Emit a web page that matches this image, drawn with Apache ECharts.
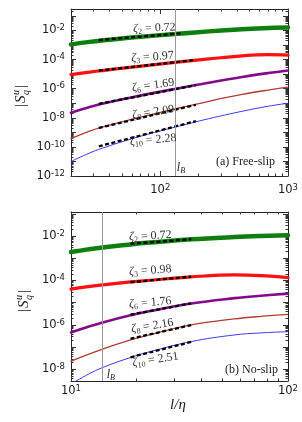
<!DOCTYPE html>
<html><head><meta charset="utf-8">
<script src="https://cdn.jsdelivr.net/npm/echarts@6/dist/echarts.min.js"></script>
<style>html,body{margin:0;padding:0;background:#fff}#c{width:302px;height:422px}</style>
</head><body><div id="c"></div>
<script>
// ---------- DATA: panel (a) Free-slip ----------
const aX   = [20, 28, 35, 63, 130, 240, 437, 700, 1000];
const aQ2  = [1.1e-3, 1.65e-3, 2.06e-3, 3.4e-3, 5.7e-3, 8.7e-3, 1.21e-2, 1.46e-2, 1.63e-2];
const aQ3  = [9.3e-6, 1.39e-5, 1.77e-5, 3.18e-5, 6.45e-5, 1.12e-4, 1.81e-4, 2.18e-4, 2.03e-4];
const aQ6  = [2.2e-8, 5.45e-8, 9.1e-8, 2.78e-7, 9.65e-7, 2.6e-6, 6.4e-6, 1.19e-5, 1.8e-5];
const aQ8  = [3.8e-10, 1.23e-9, 2.3e-9, 8.8e-9, 4.0e-8, 1.36e-7, 4.0e-7, 8.1e-7, 1.28e-6];
const aQ10 = [1.0e-11, 3.84e-11, 8.0e-11, 4.14e-10, 2.27e-9, 8.7e-9, 2.8e-8, 6.25e-8, 1.0e-7];
const aFitX = [[33, 150], [33, 190], [33, 190], [33, 190], [33, 190]];
const aFitY = [[2.2e-3, 6.5e-3], [1.74e-5, 9.5e-5], [9e-8, 1.74e-6], [2.0e-9, 7.8e-8], [1.1e-10, 5.9e-9]];
const aZeta = ['0.72', '0.97', '1.69', '2.09', '2.28'];
const aLB = 130;
const aXLabels = [100, 1000];
const aYLabels = [1e-12, 1e-10, 1e-8, 1e-6, 1e-4, 1e-2];
const aTitle = '(a) Free-slip';

// ---------- DATA: panel (b) No-slip ----------
const bX   = [10, 12, 14, 18.8, 23.2, 35.8, 56.7, 75, 100];
const bQ2  = [1.9e-3, 2.5e-3, 3.06e-3, 4.17e-3, 5.04e-3, 7.05e-3, 8.96e-3, 9.97e-3, 1.08e-2];
const bQ3  = [4.1e-5, 5.29e-5, 6.37e-5, 8.56e-5, 1.024e-4, 1.45e-4, 1.78e-4, 1.66e-4, 1.34e-4];
const bQ6  = [4.6e-7, 8.23e-7, 1.29e-6, 2.7e-6, 4.2e-6, 9.2e-6, 1.6e-5, 2.06e-5, 2.56e-5];
const bQ8  = [2.3e-8, 4.68e-8, 8.19e-8, 2.1e-7, 3.7e-7, 1.0e-6, 1.86e-6, 2.43e-6, 3.0e-6];
const bQ10 = [2.2e-9, 6.0e-9, 1.22e-8, 3.42e-8, 6.3e-8, 1.78e-7, 3.55e-7, 4.37e-7, 4.97e-7];
const bFitX = [[18.8, 35.8], [18.8, 35.8], [18.8, 35.8], [18.8, 35.8], [18.8, 36.5]];
const bFitY = [[4.5e-3, 7.1e-3], [8.3e-5, 1.5e-4], [2.9e-6, 9.3e-6], [2.4e-7, 9.8e-7], [3.5e-8, 1.8e-7]];
const bZeta = ['0.72', '0.98', '1.76', '2.16', '2.51'];
const bLB = 14;
const bXLabels = [10, 100];
const bYLabels = [1e-8, 1e-6, 1e-4, 1e-2];
const bTitle = '(b) No-slip';

const qOrders = ['2', '3', '6', '8', '10'];

// ---------- LAYOUT / STYLE ----------
const ranges = [
  {xMin: 20, xMax: 1000, yMin: 1e-12, yMax: 0.3},
  {xMin: 10, xMax: 100, yMin: 3e-9, yMax: 0.12}
];
const grids = [
  {left: 71, top: 9, width: 217, height: 167},
  {left: 71, top: 212, width: 217, height: 169}
];
const colors = ['#0e7f0e', '#ff1010', '#84088a', '#b23a32', '#3a3aff'];
const widths = [4.5, 3.2, 2.6, 1.3, 1.0];
const zetaPos = [
  [[90, 1.45e-2], [87, 1.5e-4], [88, 1.7e-6], [88, 2.4e-8], [88, 3.0e-10]],
  [[23.2, 1.0e-2], [23.2, 2.8e-4], [23.2, 1.0e-5], [23.7, 9e-7], [24.5, 2.7e-8]]
];
const zetaRot = [[2.5, 4, 8, 9, 5], [3, 4, 5, 9.5, 9]];
const lbOffset = [[2, 8], [4, 6]];
const serif = '"Liberation Serif","DejaVu Serif",serif';
const sans = '"DejaVu Sans","Liberation Sans",sans-serif';
const ink = '#1a1a1a';

function decadeTicks(min, max) {
  const majors = [], minors = [];
  for (let e = Math.floor(Math.log10(min)); e <= Math.ceil(Math.log10(max)); e++) {
    for (let k = 1; k < 10; k++) {
      const v = k * Math.pow(10, e);
      if (v < min * 0.9999 || v > max * 1.0001) continue;
      (k === 1 ? majors : minors).push(v);
    }
  }
  return {majors, minors};
}
function powLabel(v) {
  const e = Math.round(Math.log10(v));
  return '{b|10}{s|' + e + '}';
}
const labelRich = {
  b: {fontFamily: sans, fontSize: 11.5, color: ink, lineHeight: 14},
  s: {fontFamily: sans, fontSize: 8.5, color: ink, verticalAlign: 'top', lineHeight: 9}
};
function makeAxes(dim, gi, min, max, labels, margin) {
  const t = decadeTicks(min, max);
  const pos = dim === 'x' ? ['bottom', 'top'] : ['left', 'right'];
  const lineOn = {show: true, onZero: false, lineStyle: {color: '#222', width: 1}};
  const lineOff = {show: false, onZero: false};
  const tickStyle = {color: '#333', width: 1};
  const list = [];
  pos.forEach((p, side) => {
    list.push({
      gridIndex: gi, type: 'log', logBase: 10, min, max, position: p,
      splitLine: {show: false}, axisLine: lineOn,
      axisTick: {show: true, inside: true, length: 5, lineStyle: tickStyle, customValues: t.majors},
      axisLabel: side === 0 ? {show: true, customValues: labels, margin, formatter: powLabel, rich: labelRich} : {show: false}
    });
    list.push({
      gridIndex: gi, type: 'log', logBase: 10, min, max, position: p,
      splitLine: {show: false}, axisLine: lineOff,
      axisTick: {show: true, inside: true, length: 2.5, lineStyle: tickStyle, customValues: t.minors},
      axisLabel: {show: false}
    });
  });
  return list;
}

const xAxes = [...makeAxes('x', 0, ranges[0].xMin, ranges[0].xMax, aXLabels, 7),
               ...makeAxes('x', 1, ranges[1].xMin, ranges[1].xMax, bXLabels, 3)];
const yAxes = [...makeAxes('y', 0, ranges[0].yMin, ranges[0].yMax, aYLabels, 6),
               ...makeAxes('y', 1, ranges[1].yMin, ranges[1].yMax, bYLabels, 6)];

const panels = [
  {xs: aX, curves: [aQ2, aQ3, aQ6, aQ8, aQ10], fitX: aFitX, fitY: aFitY, lb: aLB},
  {xs: bX, curves: [bQ2, bQ3, bQ6, bQ8, bQ10], fitX: bFitX, fitY: bFitY, lb: bLB}
];
const series = [];
panels.forEach((P, pi) => {
  const ai = pi * 4;
  P.curves.forEach((ys, ci) => {
    const s = {
      type: 'line', xAxisIndex: ai, yAxisIndex: ai, silent: true, animation: false,
      data: P.xs.map((x, i) => [x, ys[i]]), showSymbol: false, symbol: 'none',
      smooth: 0.4, lineStyle: {color: colors[ci], width: widths[ci], cap: 'round'}, z: 3
    };
    if (ci === 4) {
      s.markLine = {silent: true, symbol: ['none', 'none'], label: {show: false}, animation: false,
        lineStyle: {color: '#9a9a9a', width: 1, type: 'solid'}, data: [{xAxis: P.lb}]};
    }
    series.push(s);
  });
  P.fitX.forEach((xr, ci) => {
    series.push({
      type: 'line', xAxisIndex: ai, yAxisIndex: ai, silent: true, animation: false,
      data: [[xr[0], P.fitY[ci][0]], [xr[1], P.fitY[ci][1]]], showSymbol: false, symbol: 'none',
      lineStyle: {color: '#000', width: 2.3, type: [4, 2.5]}, z: 4
    });
  });
});

const chart = echarts.init(document.getElementById('c'), null, {renderer: 'canvas', width: 302, height: 422});
chart.setOption({
  animation: false,
  backgroundColor: '#fff',
  grid: grids.map(g => Object.assign({}, g, {containLabel: false, outerBoundsMode: 'none'})),
  xAxis: xAxes,
  yAxis: yAxes,
  series
});

// ---------- annotations ----------
function px(pi, x, y) { return chart.convertToPixel({xAxisIndex: pi * 4, yAxisIndex: pi * 4}, [x, y]); }
function txt(x, y, style, extra) {
  return Object.assign({type: 'text', x, y, silent: true, z: 100, style: Object.assign({fill: ink}, style)}, extra || {});
}
const graphics = [];
const zetaSets = [aZeta, bZeta];
const titles = [aTitle, bTitle];
const lbs = [aLB, bLB];
[0, 1].forEach(pi => {
  zetaSets[pi].forEach((val, i) => {
    const p = px(pi, zetaPos[pi][i][0], zetaPos[pi][i][1]);
    graphics.push(txt(p[0], p[1], {
      text: '{z|ζ}{s|' + qOrders[i] + '}{t| = ' + val + '}',
      align: 'center', verticalAlign: 'middle', textAlign: 'center', textVerticalAlign: 'middle',
      rich: {
        z: {fontFamily: serif, fontSize: 12, fontStyle: 'italic', fill: '#333', color: '#333', lineHeight: 14},
        s: {fontFamily: serif, fontSize: 8, fill: '#333', color: '#333', verticalAlign: 'bottom', lineHeight: 8},
        t: {fontFamily: serif, fontSize: 12, fill: '#333', color: '#333', lineHeight: 14}
      }
    }, {rotation: zetaRot[pi][i] * Math.PI / 180}));
  });
  const r = ranges[pi];
  const br = px(pi, r.xMax, r.yMin);
  const off = pi === 0 ? [13, 14] : [10, 11];
  graphics.push(txt(br[0] - off[0], br[1] - off[1], {
    text: titles[pi], font: '12px ' + serif, align: 'right', verticalAlign: 'middle',
    textAlign: 'right', textVerticalAlign: 'middle'
  }));
  const lp = px(pi, lbs[pi], r.yMin);
  graphics.push(txt(lp[0] + lbOffset[pi][0], lp[1] - lbOffset[pi][1], {
    text: '{l|l}{s|B}', align: 'left', verticalAlign: 'middle', textAlign: 'left', textVerticalAlign: 'middle',
    rich: {
      l: {fontFamily: serif, fontSize: 12, fontStyle: 'italic', fill: ink, color: ink, lineHeight: 14},
      s: {fontFamily: serif, fontSize: 8, fontStyle: 'italic', fill: ink, color: ink, verticalAlign: 'bottom', lineHeight: 8}
    }
  }));
});
// y-axis titles |S_q^u|
function yTitle(cx, cy) {
  const f = serif;
  const base = {align: 'left', verticalAlign: 'middle', textAlign: 'left', textVerticalAlign: 'middle'};
  return {
    type: 'group', x: cx, y: cy, rotation: Math.PI / 2, silent: true, z: 100,
    children: [
      txt(-12, 0, Object.assign({text: '|', font: '15px ' + f}, base)),
      txt(-8, 0, Object.assign({text: 'S', font: 'italic 15px ' + f}, base)),
      txt(0, -5, Object.assign({text: 'u', font: 'italic 10px ' + f}, base)),
      txt(0, 5, Object.assign({text: 'q', font: 'italic 10px ' + f}, base)),
      txt(7, 0, Object.assign({text: '|', font: '15px ' + f}, base))
    ]
  };
}
graphics.push(yTitle(21, 95));
graphics.push(yTitle(24, 300));
graphics.push(txt(178, 405, {text: 'l/η', font: 'italic 15px ' + serif, align: 'center', verticalAlign: 'middle', textAlign: 'center', textVerticalAlign: 'middle'}));
chart.setOption({graphic: graphics});
</script>
</body></html>
